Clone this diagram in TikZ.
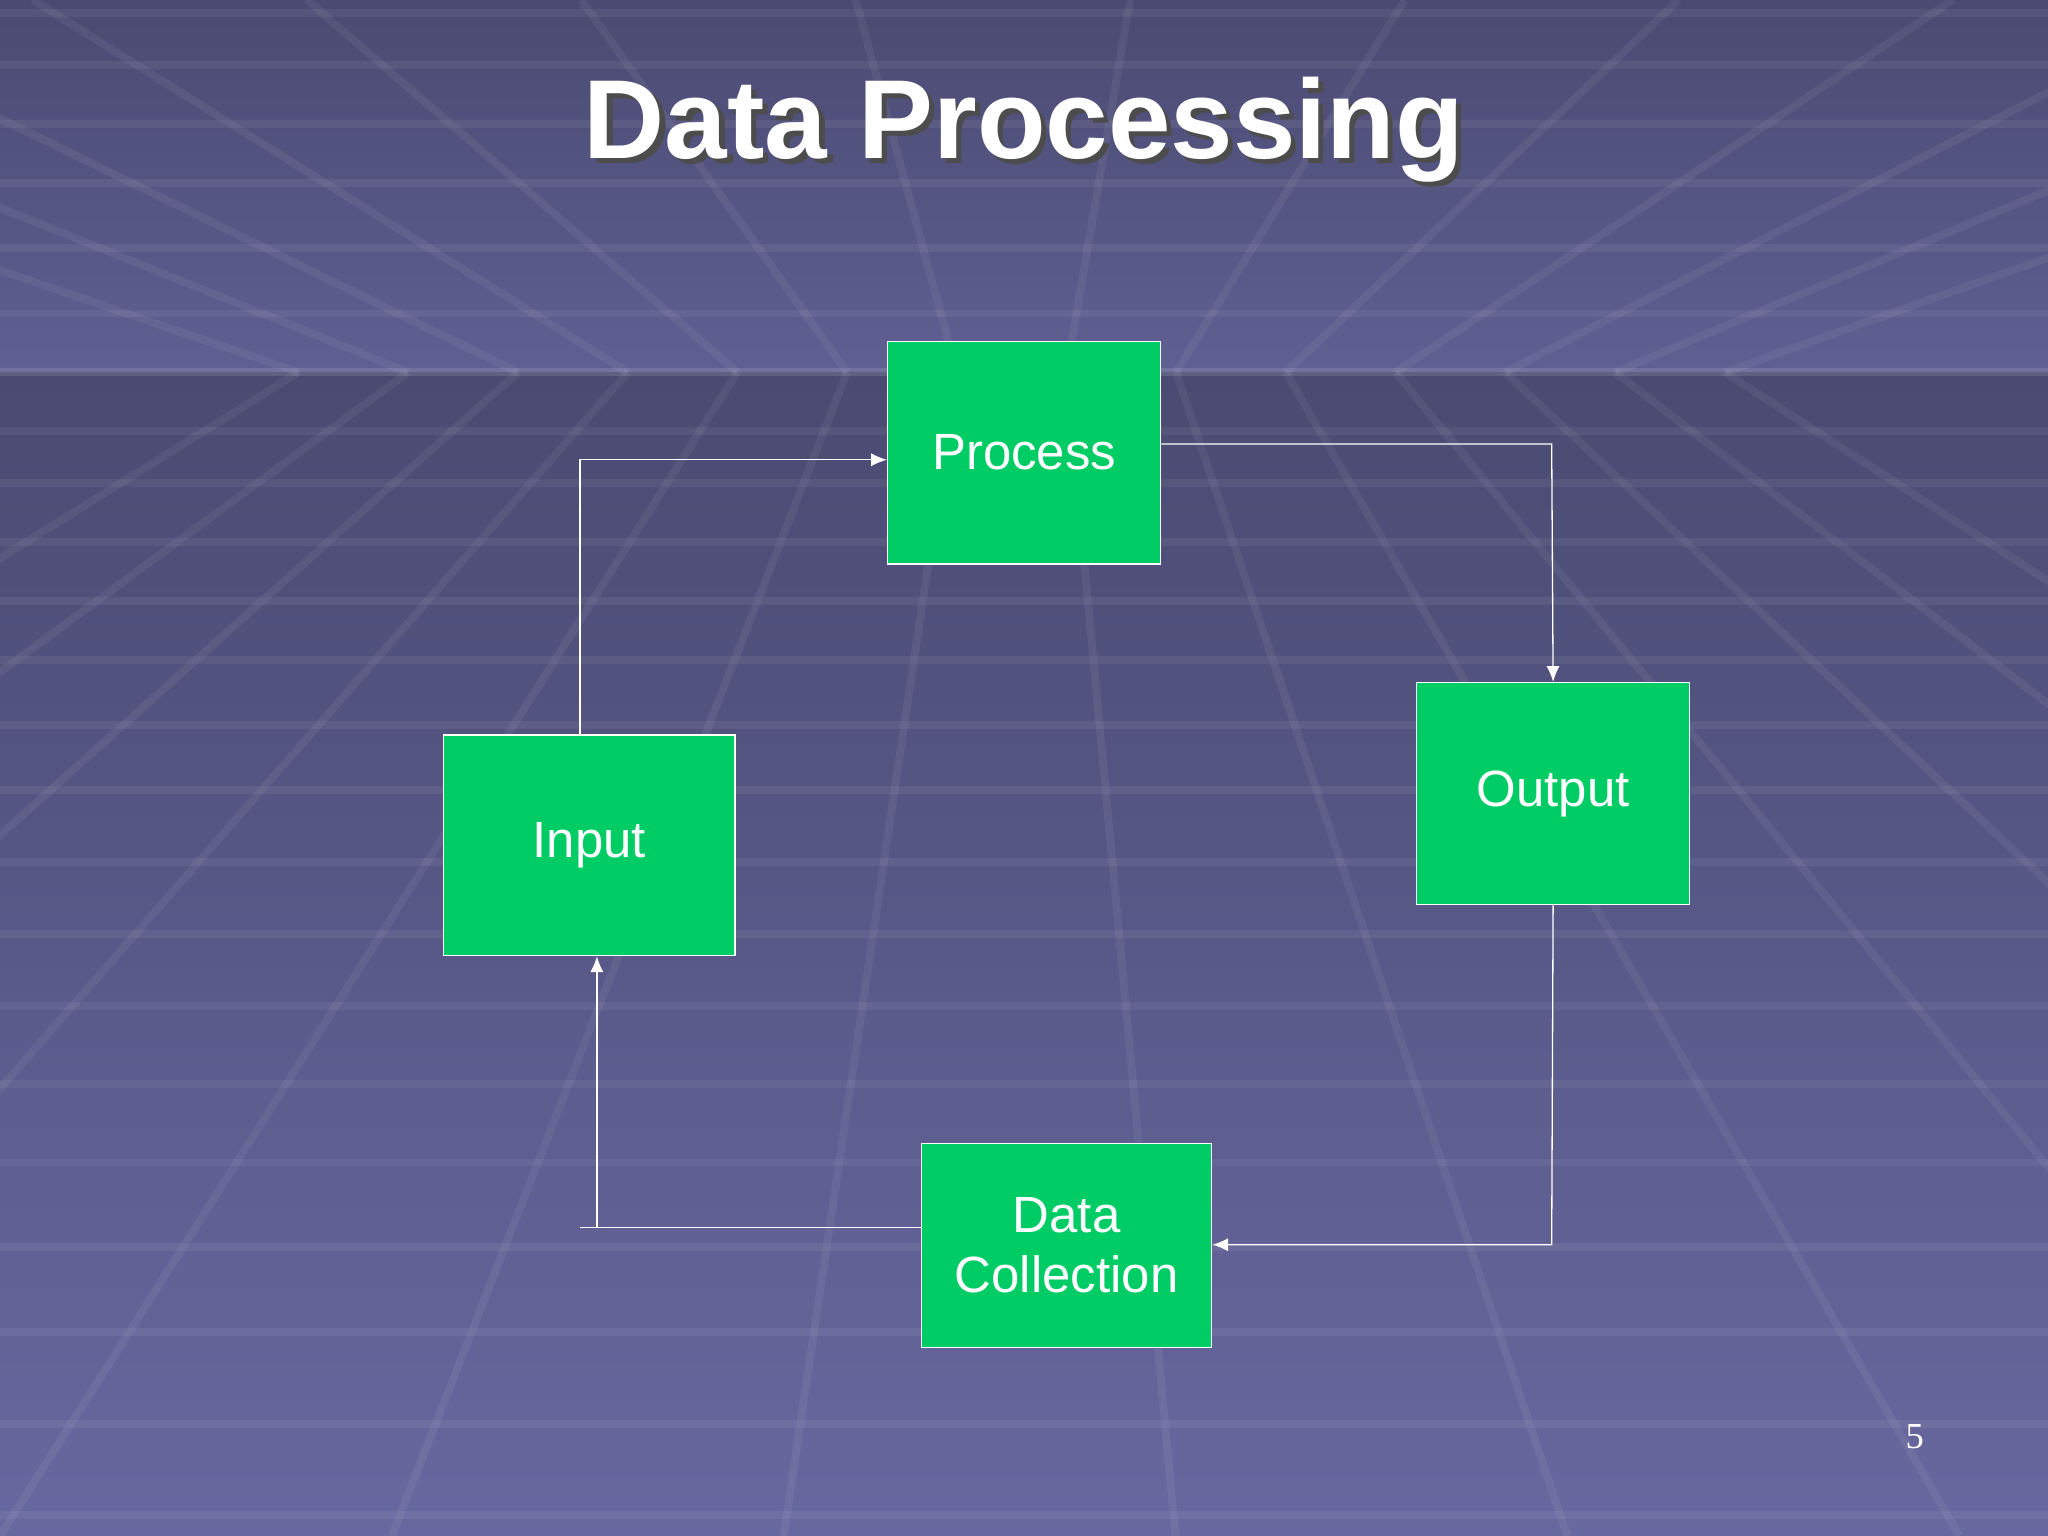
\documentclass[tikz,border=0pt]{standalone}
\usepackage{fontspec}
\setmainfont{Liberation Sans}
\newfontfamily\serifnum{Liberation Serif}
\usetikzlibrary{arrows.meta}
\definecolor{bgtop}{HTML}{4A4A72}
\definecolor{bgmid}{HTML}{5F5F92}
\definecolor{bgbot}{HTML}{6868A0}
\definecolor{boxgreen}{HTML}{00CC66}
\tikzset{
  box/.style={draw=white, line width=0.6pt, fill=boxgreen, text=white, font=\fontsize{19.5}{23}\selectfont, align=center, inner sep=0pt},
  conn/.style={draw=white, line width=0.5pt},
  arr/.style={conn, -{Latex[length=6pt,width=5pt]}},
  grid/.style={draw=white, opacity=0.06, line width=3pt}
}
\begin{document}
\begin{tikzpicture}[x=0.5pt,y=-0.5pt]
\useasboundingbox (0,0) rectangle (1568,1176);
\shade[top color=bgtop, bottom color=bgmid] (0,0) rectangle (1568,285);
\shade[top color=bgtop, bottom color=bgbot] (0,285) rectangle (1568,1176);
\foreach \y in {10,50,95,140,190,240} \draw[grid] (0,\y) -- (1568,\y);
\foreach \y in {330,370,415,460,505,555,605,660,715,770,830,890,955,1020,1090,1160} \draw[grid] (0,\y) -- (1568,\y);
\foreach \x in {-1200,-900,-600,-300,0,300,600,900,1200,1500,1800,2100,2400,2700} {
  \draw[grid] (784+0.28*\x-0.28*784,285) -- (\x,1176);
  \draw[grid] (784+0.28*\x-0.28*784,285) -- (784+0.7*\x-0.7*784,0);
}
\draw[grid, opacity=0.12] (0,285) -- (1568,285);
% title
\node[text=black!70, font=\fontsize{43}{50}\selectfont\bfseries] at (788,103) {Data Processing};
\node (title) [text=white, font=\fontsize{43}{50}\selectfont\bfseries] at (784,99) {Data Processing};
% boxes
\node[box, minimum width=104.5pt, minimum height=85pt, anchor=north west] (proc) at (679,261) {Process};
\node[box, minimum width=111.5pt, minimum height=84.5pt, anchor=north west] (inp) at (339,562) {Input};
\node[box, minimum width=104.5pt, minimum height=85pt, anchor=north west] (out) at (1084,522) {Output};
\node[box, minimum width=111pt, minimum height=78pt, anchor=north west] (dc) at (705,875) {Data\\Collection};
% connectors
\coordinate (c1) at (444,352);
\draw[arr] (inp.north west -| c1) -- (c1) -- (proc.west |- c1);
\coordinate (c2) at (1188,340);
\draw[arr] (proc.east |- c2) -- (c2) -- (out.north);
\coordinate (c3) at (1188,953);
\draw[arr] (out.south) -- (c3) -- (dc.east |- c3);
\coordinate (c4) at (444,940);
\coordinate (c5) at (457,940);
\draw[conn] (dc.west |- c4) -- (c4);
\draw[arr] (c5) -- (inp.south west -| c5);
% page number
\node (pg) [text=white, font=\serifnum\fontsize{14}{16}\selectfont] at (1466,1100) {5};
\end{tikzpicture}
\end{document}
